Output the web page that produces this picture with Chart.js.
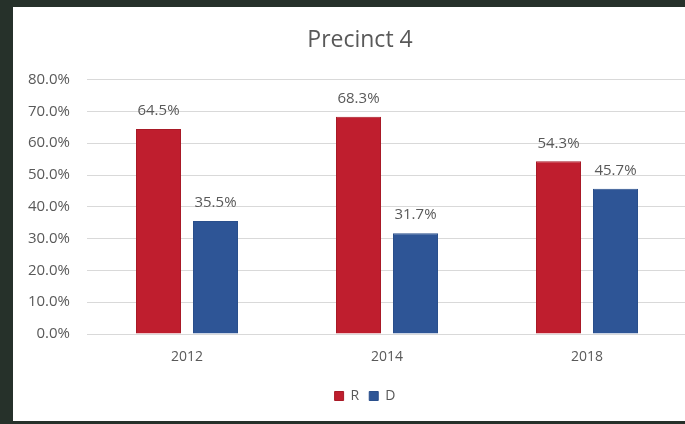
<!DOCTYPE html>
<html>
<head>
<meta charset="utf-8">
<script src="https://cdn.jsdelivr.net/npm/chart.js@4/dist/chart.umd.min.js"></script>
<style>
  html, body { margin: 0; padding: 0; background: #26312a; overflow: hidden; width: 685px; height: 424px; }
  #box { position: absolute; left: 13px; top: 7px; width: 696px; height: 414px; background: #fff; }
</style>
</head>
<body>
<div id="box"><canvas id="precinct"></canvas></div>
<script>
const years = ['2012', '2014', '2018']
const rShare = [64.5, 68.3, 54.3]
const dShare = [35.5, 31.7, 45.7]
const yTicks = [0, 10, 20, 30, 40, 50, 60, 70, 80]

const grey = '#595959'
const font = 'Open Sans'

// percent labels over each bar
const barLabels = {
  id: 'barLabels',
  afterDatasetsDraw(chart) {
    const ctx = chart.ctx
    ctx.save()
    ctx.fillStyle = grey
    ctx.font = '15px "' + font + '"'
    ctx.textAlign = 'center'
    ctx.textBaseline = 'middle'
    chart.data.datasets.forEach((ds, i) => {
      chart.getDatasetMeta(i).data.forEach((bar, j) => {
        ctx.fillText(ds.data[j].toFixed(1) + '%', bar.x, bar.y - 18)
      })
    })
    ctx.restore()
  }
}

// y labels stick out left of the axis box, so widen its clip area;
// legend sits a little right of centre in the original
const tweakLayout = {
  id: 'tweakLayout',
  afterLayout(chart) {
    chart.scales.y.left = 0
    chart.legend.left += 5
    chart.legend.right += 5
  }
}

new Chart(document.getElementById('precinct'), {
  type: 'bar',
  data: {
    labels: years,
    datasets: [
      { label: 'R', data: rShare, backgroundColor: '#bf1e2e', borderColor: '#a81a27', borderWidth: 1 },
      { label: 'D', data: dShare, backgroundColor: '#2e5596', borderColor: '#2a4f8c', borderWidth: 1 }
    ]
  },
  options: {
    responsive: true,
    maintainAspectRatio: false,
    animation: false,
    categoryPercentage: 0.57,
    barPercentage: 0.79,
    layout: { padding: { left: 20, right: 22, top: 0, bottom: 8 } },
    plugins: {
      title: {
        display: true,
        text: 'Precinct 4',
        color: grey,
        font: { family: font, size: 23, weight: 'normal' },
        padding: { top: 20, bottom: 25 }
      },
      legend: {
        position: 'bottom',
        labels: {
          color: grey,
          boxWidth: 9,
          boxHeight: 9,
          padding: 10,
          font: { family: font, size: 14 }
        }
      },
      tooltip: { enabled: false }
    },
    scales: {
      x: {
        grid: { display: false, drawTicks: false },
        border: { display: false },
        afterFit(scale) { scale.height = 45 },
        ticks: { color: grey, padding: 15, font: { family: font, size: 14 } }
      },
      y: {
        min: 0,
        max: 80,
        afterFit(scale) { scale.width = 54 },
        afterBuildTicks(scale) { scale.ticks = yTicks.map(v => ({ value: v })) },
        grid: { color: '#d9d9d9', drawTicks: false },
        border: { display: false },
        ticks: {
          color: grey,
          padding: 17,
          font: { family: font, size: 15 },
          callback: v => v.toFixed(1) + '%'
        }
      }
    }
  },
  plugins: [barLabels, tweakLayout]
})
</script>
</body>
</html>
